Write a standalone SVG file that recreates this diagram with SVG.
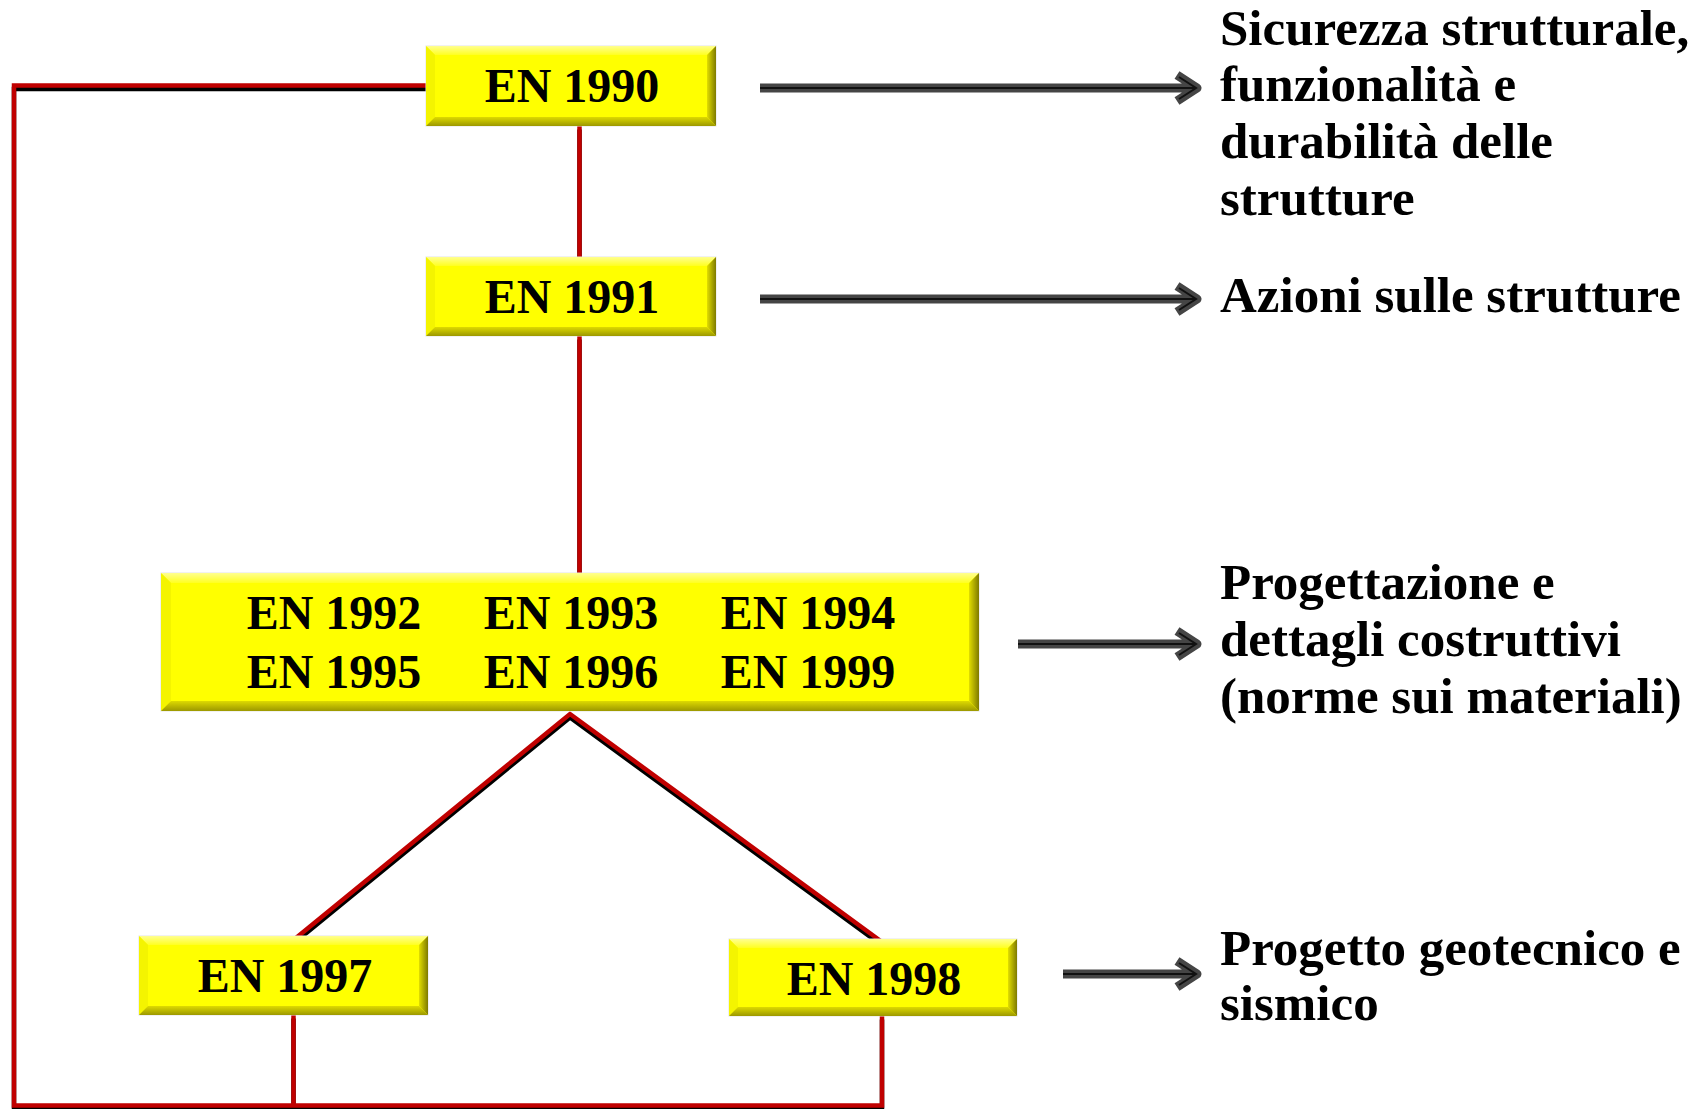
<svg xmlns="http://www.w3.org/2000/svg" width="1706" height="1109" viewBox="0 0 1706 1109">
<style>
.lbl{font-family:"Liberation Serif","Times New Roman",serif;font-weight:bold;font-size:48px;fill:#000;text-anchor:middle}
.desc{font-family:"Liberation Serif","Times New Roman",serif;font-weight:bold;font-size:51px;fill:#000}
.red{fill:none;stroke:#C00000;stroke-width:4.5;stroke-linejoin:miter}
.shd{fill:none;stroke:#000;stroke-width:4.5;stroke-linejoin:miter}
.base{fill:#FFFF00;stroke:#E4E4E4;stroke-width:1}
.top{fill:url(#gTop)}
.left{fill:#F4F400}
.right{fill:url(#gRight)}
.bot{fill:url(#gBot)}
.ash{fill:none;stroke:#454545;stroke-width:9;stroke-linejoin:round;stroke-linecap:butt}
.acore{fill:none;stroke:#111;stroke-width:2}
</style>
<defs>
<linearGradient id="gTop" x1="0" y1="0" x2="0" y2="1"><stop offset="0" stop-color="#FFFF90"/><stop offset="1" stop-color="#FFFF20"/></linearGradient>
<linearGradient id="gRight" x1="0" y1="0" x2="1" y2="0"><stop offset="0" stop-color="#E2DE00"/><stop offset="1" stop-color="#7E7A00"/></linearGradient>
<linearGradient id="gBot" x1="0" y1="0" x2="0" y2="1"><stop offset="0" stop-color="#DEDA00"/><stop offset="1" stop-color="#9C9800"/></linearGradient>
</defs>
<rect width="1706" height="1109" fill="#fff"/>

<g id="connectors">
  <g transform="translate(0,3.5)">
    <path class="shd" d="M430 85.5 H14 V1105.5 H882 V1016"/>
    <path class="shd" d="M579.5 126 V257"/>
    <path class="shd" d="M579.5 336 V573"/>
    <path class="shd" d="M293.5 940 L570 714 L882 942"/>
    <path class="shd" d="M293.5 1015 V1105.5"/>
  </g>
  <path class="red" d="M430 85.5 H14 V1105.5 H882 V1016"/>
  <path class="red" d="M579.5 126 V257"/>
  <path class="red" d="M579.5 336 V573"/>
  <path class="red" d="M293.5 940 L570 714 L882 942"/>
  <path class="red" d="M293.5 1015 V1105.5"/>
</g>

<g id="n1990">
  <rect class="base" x="426" y="46" width="290" height="80"/>
  <polygon class="top" points="426,46 716,46 707,55 435,55"/>
  <polygon class="left" points="426,46 435,55 435,117 426,126"/>
  <polygon class="right" points="716,46 716,126 707,117 707,55"/>
  <polygon class="bot" points="426,126 435,117 707,117 716,126"/>
  <text class="lbl" x="572" y="102">EN 1990</text>
</g>

<g id="n1991">
  <rect class="base" x="426" y="257" width="290" height="79"/>
  <polygon class="top" points="426,257 716,257 707,266 435,266"/>
  <polygon class="left" points="426,257 435,266 435,327 426,336"/>
  <polygon class="right" points="716,257 716,336 707,327 707,266"/>
  <polygon class="bot" points="426,336 435,327 707,327 716,336"/>
  <text class="lbl" x="572" y="313">EN 1991</text>
</g>

<g id="nMat">
  <rect class="base" x="161" y="573" width="818" height="138"/>
  <polygon class="top" points="161,573 979,573 969,583 171,583"/>
  <polygon class="left" points="161,573 171,583 171,701 161,711"/>
  <polygon class="right" points="979,573 979,711 969,701 969,583"/>
  <polygon class="bot" points="161,711 171,701 969,701 979,711"/>
  <text class="lbl" x="334" y="629">EN 1992</text>
  <text class="lbl" x="571" y="629">EN 1993</text>
  <text class="lbl" x="808" y="629">EN 1994</text>
  <text class="lbl" x="334" y="688">EN 1995</text>
  <text class="lbl" x="571" y="688">EN 1996</text>
  <text class="lbl" x="808" y="688">EN 1999</text>
</g>

<g id="n1997">
  <rect class="base" x="139" y="936" width="289" height="79"/>
  <polygon class="top" points="139,936 428,936 419,945 148,945"/>
  <polygon class="left" points="139,936 148,945 148,1006 139,1015"/>
  <polygon class="right" points="428,936 428,1015 419,1006 419,945"/>
  <polygon class="bot" points="139,1015 148,1006 419,1006 428,1015"/>
  <text class="lbl" x="285" y="992">EN 1997</text>
</g>

<g id="n1998">
  <rect class="base" x="729" y="939" width="288" height="77"/>
  <polygon class="top" points="729,939 1017,939 1008,948 738,948"/>
  <polygon class="left" points="729,939 738,948 738,1007 729,1016"/>
  <polygon class="right" points="1017,939 1017,1016 1008,1007 1008,948"/>
  <polygon class="bot" points="729,1016 738,1007 1008,1007 1017,1016"/>
  <text class="lbl" x="874" y="995">EN 1998</text>
</g>

<g id="arrows">
  <path class="ash" d="M760 88 H1194 M1177 75 L1197 88 L1177 101"/>
  <path class="acore" d="M760 88 H1195 M1179 77 L1196 88 L1179 99"/>
  <path class="ash" d="M760 299 H1194 M1177 286 L1197 299 L1177 312"/>
  <path class="acore" d="M760 299 H1195 M1179 288 L1196 299 L1179 310"/>
  <path class="ash" d="M1018 644 H1194 M1177 631 L1197 644 L1177 657"/>
  <path class="acore" d="M1018 644 H1195 M1179 633 L1196 644 L1179 655"/>
  <path class="ash" d="M1063 974 H1194 M1177 961 L1197 974 L1177 987"/>
  <path class="acore" d="M1063 974 H1195 M1179 963 L1196 974 L1179 985"/>
</g>

<g id="descriptions">
  <text class="desc" x="1220" y="45">Sicurezza strutturale,</text>
  <text class="desc" x="1220" y="101">funzionalità e</text>
  <text class="desc" x="1220" y="158">durabilità delle</text>
  <text class="desc" x="1220" y="215">strutture</text>
  <text class="desc" x="1220" y="312">Azioni sulle strutture</text>
  <text class="desc" x="1220" y="599">Progettazione e</text>
  <text class="desc" x="1220" y="656">dettagli costruttivi</text>
  <text class="desc" x="1220" y="713">(norme sui materiali)</text>
  <text class="desc" x="1220" y="965">Progetto geotecnico e</text>
  <text class="desc" x="1220" y="1020">sismico</text>
</g>
</svg>
